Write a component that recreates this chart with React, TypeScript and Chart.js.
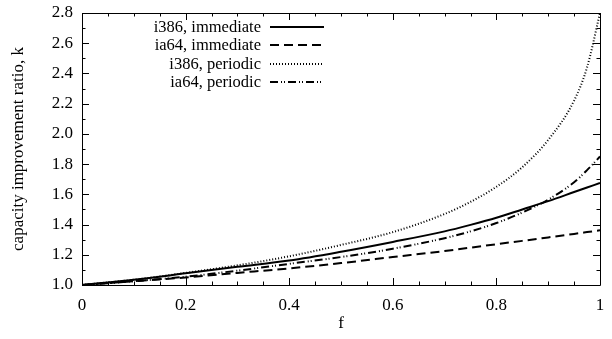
import React, { useEffect, useRef } from "react";
import { Chart, registerables } from "chart.js";

Chart.register(...registerables);

// ---- data ----
const fValues = [0, 0.1, 0.2, 0.3, 0.4, 0.5, 0.6, 0.7, 0.75, 0.8, 0.85, 0.9, 0.95, 0.975, 1.0];
const i386Immediate = [1.0, 1.035, 1.077, 1.12, 1.162, 1.22, 1.285, 1.355, 1.398, 1.445, 1.5, 1.555, 1.615, 1.645, 1.675];
const ia64Immediate = [1.0, 1.025, 1.05, 1.08, 1.11, 1.145, 1.185, 1.225, 1.247, 1.27, 1.292, 1.315, 1.338, 1.35, 1.362];
const i386Periodic = [1.0, 1.035, 1.08, 1.13, 1.19, 1.265, 1.35, 1.47, 1.55, 1.65, 1.78, 1.96, 2.22, 2.44, 2.8];
const ia64Periodic = [1.0, 1.025, 1.055, 1.095, 1.14, 1.185, 1.24, 1.31, 1.355, 1.41, 1.48, 1.565, 1.68, 1.76, 1.85];

const seriesLabels = ["i386, immediate", "ia64, immediate", "i386, periodic", "ia64, periodic"];
const xTickLabels = ["0", "0.2", "0.4", "0.6", "0.8", "1"];
const yTickLabels = ["1.0", "1.2", "1.4", "1.6", "1.8", "2.0", "2.2", "2.4", "2.6", "2.8"];
const xTitle = "f";
const yTitle = "capacity improvement ratio, k";

const FONT = "'Liberation Serif', 'Times New Roman', serif";
const FONT_SIZE = 17;

const framePlugin = {
  id: "frameTicks",
  afterDatasetsDraw(chart: any) {
    const { ctx, chartArea, scales } = chart;
    const { left, right, top, bottom } = chartArea;
    const xs = scales.x;
    const ys = scales.y;
    ctx.save();
    ctx.strokeStyle = "#000";
    ctx.lineWidth = 1;
    ctx.beginPath();
    ctx.rect(Math.round(left) + 0.5, Math.round(top) + 0.5, Math.round(right - left), Math.round(bottom - top));
    ctx.stroke();
    // x ticks (bottom and top), every 0.05, major every 0.2
    for (let i = 0; i <= 20; i++) {
      const v = i * 0.05;
      const major = i % 4 === 0;
      const len = major ? 7 : 3.5;
      const px = Math.round(xs.getPixelForValue(v)) + 0.5;
      ctx.beginPath();
      ctx.moveTo(px, bottom);
      ctx.lineTo(px, bottom - len);
      ctx.moveTo(px, top);
      ctx.lineTo(px, top + len);
      ctx.stroke();
    }
    // y ticks (left and right), every 0.1, major every 0.2
    for (let i = 0; i <= 18; i++) {
      const v = 1 + i * 0.1;
      const major = i % 2 === 0;
      const len = major ? 7 : 3.5;
      const py = Math.round(ys.getPixelForValue(v)) + 0.5;
      ctx.beginPath();
      ctx.moveTo(left, py);
      ctx.lineTo(left + len, py);
      ctx.moveTo(right, py);
      ctx.lineTo(right - len, py);
      ctx.stroke();
    }
    ctx.restore();
  },
};

const legendPlugin = {
  id: "gnuLegend",
  afterDraw(chart: any) {
    const { ctx } = chart;
    const textRight = 261;
    const lineStart = 270;
    const lineEnd = 324;
    const rowY = [27, 45, 64, 82];
    ctx.save();
    ctx.font = `${FONT_SIZE - 0.5}px ${FONT}`;
    ctx.fillStyle = "#000";
    ctx.textAlign = "right";
    ctx.textBaseline = "middle";
    chart.data.datasets.forEach((ds: any, i: number) => {
      const y = rowY[i];
      ctx.fillText(ds.label, textRight, y + 1);
      ctx.beginPath();
      ctx.strokeStyle = ds.borderColor;
      ctx.lineWidth = ds.borderWidth;
      ctx.setLineDash(ds.borderDash || []);
      ctx.moveTo(lineStart, y);
      ctx.lineTo(lineEnd, y);
      ctx.stroke();
    });
    ctx.restore();
  },
};

export default function App() {
  const canvasRef = useRef<HTMLCanvasElement | null>(null);

  useEffect(() => {
    const canvas = canvasRef.current;
    if (!canvas) return;
    const mk = (vals: number[]) => fValues.map((f, i) => ({ x: f, y: vals[i] }));
    const chart = new Chart(canvas, {
      type: "line",
      data: {
        datasets: [
          { label: seriesLabels[0], data: mk(i386Immediate), borderColor: "#000", borderWidth: 2, borderDash: [] },
          { label: seriesLabels[1], data: mk(ia64Immediate), borderColor: "#000", borderWidth: 2, borderDash: [9, 5] },
          { label: seriesLabels[2], data: mk(i386Periodic), borderColor: "#000", borderWidth: 2, borderDash: [1, 2] },
          { label: seriesLabels[3], data: mk(ia64Periodic), borderColor: "#000", borderWidth: 2, borderDash: [8, 3, 1, 2, 1, 3] },
        ] as any,
      },
      options: {
        responsive: false,
        animation: false,
        events: [],
        layout: { padding: { left: 0, right: 12, top: 13, bottom: 0 } },
        elements: {
          point: { radius: 0 },
          line: { cubicInterpolationMode: "monotone", fill: false },
        },
        plugins: {
          legend: { display: false },
          tooltip: { enabled: false },
        },
        scales: {
          x: {
            type: "linear",
            min: 0,
            max: 1,
            grid: { display: false, drawTicks: false },
            border: { display: false },
            ticks: {
              stepSize: 0.2,
              padding: 10,
              color: "#000",
              font: { family: FONT, size: FONT_SIZE },
              maxRotation: 0,
              callback: (_v: any, i: number) => xTickLabels[i],
            },
            title: {
              display: true,
              text: xTitle,
              color: "#000",
              font: { family: FONT, size: FONT_SIZE },
              padding: { top: 0, bottom: 5 },
            },
            afterFit: (s: any) => {
              s.height = 54;
              s.paddingLeft = 0;
              s.paddingRight = 0;
            },
          },
          y: {
            type: "linear",
            min: 1,
            max: 2.8,
            grid: { display: false, drawTicks: false },
            border: { display: false },
            ticks: {
              stepSize: 0.2,
              padding: 9,
              color: "#000",
              font: { family: FONT, size: FONT_SIZE },
              callback: (_v: any, i: number) => yTickLabels[i],
            },
            title: {
              display: true,
              text: yTitle,
              color: "#000",
              font: { family: FONT, size: FONT_SIZE },
              padding: { top: 8, bottom: 0 },
            },
            afterFit: (s: any) => {
              s.width = 82;
              s.paddingTop = 0;
              s.paddingBottom = 0;
            },
          },
        },
      } as any,
      plugins: [framePlugin, legendPlugin],
    });
    return () => chart.destroy();
  }, []);

  return (
    <div style={{ position: "fixed", left: 0, top: 0, width: 612, height: 339, background: "#fff" }}>
      <canvas ref={canvasRef} width={612} height={339} style={{ display: "block", width: 612, height: 339 }} />
    </div>
  );
}
